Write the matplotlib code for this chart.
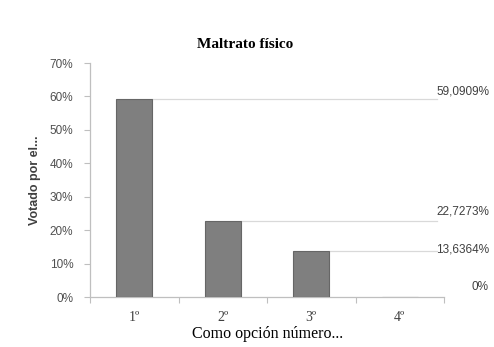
import matplotlib
matplotlib.use("Agg")
import matplotlib.pyplot as plt

# Data
categories = ["1º", "2º", "3º", "4º"]
values = [59.0909, 22.7273, 13.6364, 0.0]
value_labels = ["59,0909%", "22,7273%", "13,6364%", "0%"]
yticks = [0, 10, 20, 30, 40, 50, 60, 70]
ytick_labels = ["0%", "10%", "20%", "30%", "40%", "50%", "60%", "70%"]

serif = "Liberation Serif"
sans = "Liberation Sans"

W, H = 494, 347
fig = plt.figure(figsize=(W / 100, H / 100), dpi=100)
ax = fig.add_axes([90 / W, 1 - 297 / H, (444 - 90) / W, (297 - 63) / H])

x = list(range(len(categories)))
bar_w = 0.41
ax.bar(x, values, width=bar_w, color="#7f7f7f", edgecolor="#666666", linewidth=0.8, zorder=3)

ax.set_xlim(-0.5, len(categories) - 0.5)
ax.set_ylim(0, 70)
ax.set_yticks(yticks)
ax.set_yticklabels(ytick_labels, fontfamily=sans, fontsize=8.5, color="#505050")
ax.set_xticks(x)
ax.set_xticklabels(categories, fontfamily=serif, fontsize=10, color="#404040")
ax.set_xticks([i - 0.5 for i in range(len(categories) + 1)], minor=True)

ax.tick_params(axis="y", which="major", length=4, width=0.8, color="#bfbfbf", pad=8, direction="out")
ax.tick_params(axis="x", which="major", length=0, pad=10)
ax.tick_params(axis="x", which="minor", length=4, width=0.8, color="#bfbfbf", direction="out")

for s in ["top", "right"]:
    ax.spines[s].set_visible(False)
for s in ["left", "bottom"]:
    ax.spines[s].set_color("#bfbfbf")
    ax.spines[s].set_linewidth(0.9)

# leader lines and value labels on the right
line_end = 3.42
label_x = {0: 436, 1: 436, 2: 436, 3: 471}
label_dy = {0: 2.3, 1: 2.8, 2: 0.6, 3: 3.0}
for i, (v, lab) in enumerate(zip(values, value_labels)):
    if v > 0:
        ax.plot([i + bar_w / 2, line_end], [v, v], color="#d9d9d9", linewidth=0.9,
                clip_on=False, zorder=2)
    ydisp = ax.transData.transform((0, v + label_dy[i]))[1]
    fig.text(label_x[i] / W, ydisp / H, lab, fontfamily=sans, fontsize=8.5,
             color="#404040", ha="left", va="center")

fig.text(245 / W, 1 - 45 / H, "Maltrato físico", fontfamily=serif, fontweight="bold",
         fontsize=11, ha="center", va="center", color="#000000")
fig.text(35 / W, 1 - 180 / H, "Votado por el...", fontfamily=sans, fontweight="bold",
         fontsize=9, rotation=90, ha="center", va="center", color="#404040")
fig.text(268 / W, 1 - 334 / H, "Como opción número...", fontfamily=serif,
         fontsize=11.5, ha="center", va="center", color="#000000")

fig.savefig("out.png", dpi=100)
